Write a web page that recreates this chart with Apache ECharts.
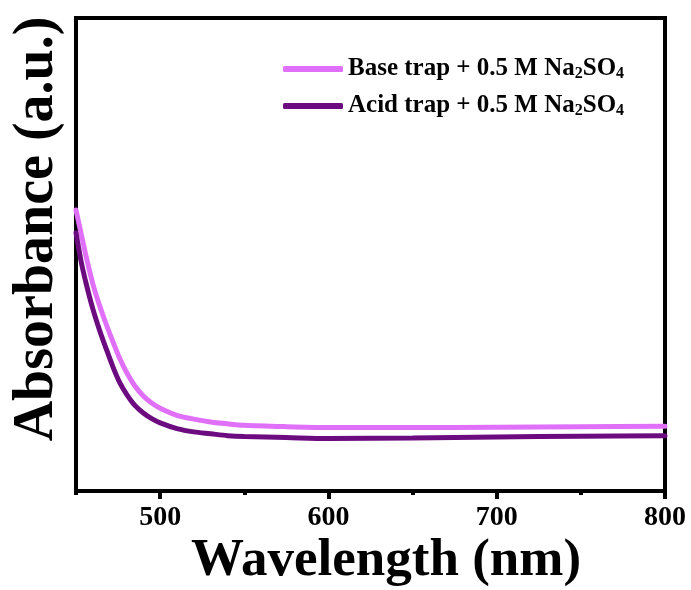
<!DOCTYPE html>
<html>
<head>
<meta charset="utf-8">
<script src="https://cdn.jsdelivr.net/npm/echarts@6/dist/echarts.min.js"></script>
<style>
  html, body { margin: 0; padding: 0; background: #fff; }
  #chart { width: 691px; height: 590px; }
</style>
</head>
<body>
<div id="chart"></div>
<script>
// UV-vis absorbance of the trap solutions
const wavelengths = [450, 453, 456, 460, 464, 468, 472, 476, 480, 485, 490, 495, 500,
                     510, 520, 530, 540, 550, 575, 600, 650, 700, 750, 800];
const baseTrap = [0.594, 0.545, 0.496, 0.438, 0.392, 0.352, 0.315, 0.280, 0.251, 0.222, 0.201, 0.186, 0.175,
                  0.160, 0.152, 0.146, 0.142, 0.139, 0.136, 0.134, 0.134, 0.135, 0.136, 0.137];
const acidTrap = [0.546, 0.486, 0.439, 0.385, 0.340, 0.300, 0.262, 0.229, 0.205, 0.181, 0.165, 0.153, 0.144,
                  0.132, 0.125, 0.121, 0.117, 0.115, 0.113, 0.111, 0.112, 0.114, 0.116, 0.117];
const majorTicks = [500, 600, 700, 800];
const minorTicks = [450, 550, 650, 750];
const seriesNames = ['Base trap + 0.5 M Na2SO4', 'Acid trap + 0.5 M Na2SO4'];
const seriesColors = ['#E070FA', '#6C0A80'];

const serif = '"Liberation Serif", "Times New Roman", serif';

function pairs(ys) {
  return wavelengths.map((x, i) => [x, ys[i]]);
}

const chart = echarts.init(document.getElementById('chart'), null, { renderer: 'canvas' });

const gridBox = { left: 76, right: 26, top: 18, bottom: 99 };

chart.setOption({
  backgroundColor: '#fff',
  animation: false,
  grid: Object.assign({ show: true, borderColor: '#000', borderWidth: 4, backgroundColor: 'transparent' }, gridBox),
  legend: {
    orient: 'vertical',
    left: 283,
    top: 56,
    padding: 0,
    itemWidth: 60,
    itemHeight: 6,
    itemGap: 11,
    icon: 'roundRect',
    data: seriesNames,
    formatter: function (name) {
      const m = name.match(/^(.*Na)2(SO)4$/);
      return '{n|' + m[1] + '}{s|2}{n|' + m[2] + '}{s|4}';
    },
    textStyle: {
      rich: {
        n: { fontFamily: serif, fontWeight: 'bold', fontSize: 25, color: '#000', lineHeight: 25 },
        s: { fontFamily: serif, fontWeight: 'bold', fontSize: 16, color: '#000', lineHeight: 16, padding: [10, 0, 0, 0] }
      }
    }
  },
  xAxis: [
    {
      type: 'value',
      min: 450,
      max: 800,
      interval: 50,
      splitLine: { show: false },
      axisLine: { show: true, lineStyle: { color: '#000', width: 4 } },
      axisTick: { show: true, customValues: majorTicks, length: 8, lineStyle: { color: '#000', width: 4 } },
      axisLabel: {
        customValues: majorTicks,
        margin: 13,
        fontFamily: serif,
        fontWeight: 'bold',
        fontSize: 28,
        color: '#000'
      }
    },
    {
      type: 'value',
      min: 450,
      max: 800,
      interval: 50,
      position: 'bottom',
      splitLine: { show: false },
      axisLine: { show: false },
      axisTick: { show: true, customValues: minorTicks, length: 4, lineStyle: { color: '#000', width: 4 } },
      axisLabel: { show: false }
    }
  ],
  yAxis: {
    type: 'value',
    min: 0,
    max: 1,
    splitLine: { show: false },
    axisLine: { show: true, lineStyle: { color: '#000', width: 4 } },
    axisTick: { show: false },
    axisLabel: { show: false }
  },
  graphic: [
    {
      type: 'text',
      x: 386,
      y: 561,
      style: {
        text: 'Wavelength (nm)',
        font: 'bold 53px ' + serif,
        fill: '#000',
        textAlign: 'center',
        textVerticalAlign: 'middle'
      }
    },
    {
      type: 'text',
      x: 38,
      y: 229,
      rotation: Math.PI / 2,
      style: {
        text: 'Absorbance (a.u.)',
        font: 'bold 56px ' + serif,
        fill: '#000',
        textAlign: 'center',
        textVerticalAlign: 'middle'
      }
    }
  ],
  series: [
    {
      name: seriesNames[0],
      type: 'line',
      data: pairs(baseTrap),
      smooth: 0.3,
      symbol: 'none',
      lineStyle: { color: seriesColors[0], width: 5, cap: 'round' },
      itemStyle: { color: seriesColors[0] },
      z: 3
    },
    {
      name: seriesNames[1],
      type: 'line',
      data: pairs(acidTrap),
      smooth: 0.3,
      symbol: 'none',
      lineStyle: { color: seriesColors[1], width: 5, cap: 'round' },
      itemStyle: { color: seriesColors[1] },
      z: 3
    }
  ]
});
</script>
</body>
</html>
